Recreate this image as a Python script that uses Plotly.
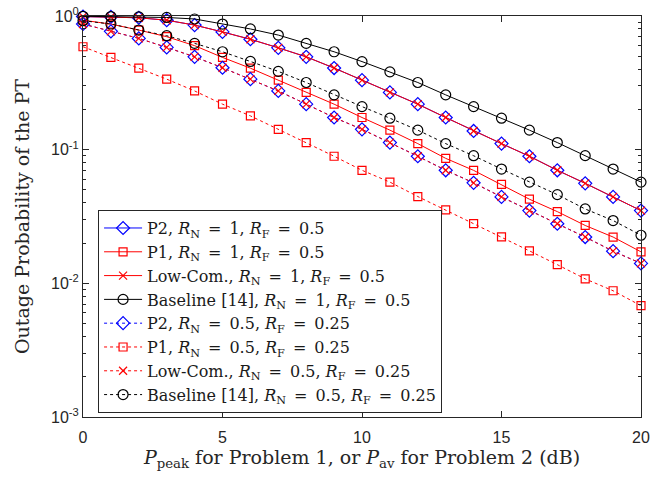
import plotly.graph_objects as go

x_db = list(range(0, 21))

p2_n1 = [0.99, 0.985, 0.97, 0.93, 0.855, 0.76, 0.67, 0.578, 0.495, 0.408, 0.331, 0.268, 0.219, 0.174,
         0.138, 0.111, 0.0893, 0.0701, 0.0560, 0.0443, 0.0350]
p1_n1 = [0.93, 0.87, 0.785, 0.70, 0.60, 0.49, 0.407, 0.331, 0.268, 0.219, 0.174, 0.140, 0.111, 0.0861,
         0.0700, 0.0550, 0.0426, 0.0344, 0.0271, 0.0222, 0.0172]
lowcom_n1 = [0.99, 0.985, 0.97, 0.93, 0.855, 0.76, 0.67, 0.578, 0.495, 0.408, 0.331, 0.268, 0.219, 0.174,
             0.138, 0.111, 0.0893, 0.0701, 0.0560, 0.0443, 0.0350]
base_n1 = [0.995, 0.99, 0.985, 0.975, 0.95, 0.87, 0.80, 0.72, 0.624, 0.540, 0.456, 0.382, 0.318, 0.257,
           0.210, 0.172, 0.140, 0.113, 0.0902, 0.0716, 0.0572]
p2_n05 = [0.871, 0.768, 0.680, 0.582, 0.495, 0.41, 0.337, 0.275, 0.219, 0.174, 0.142, 0.113, 0.0893,
          0.0701, 0.0565, 0.0443, 0.0350, 0.0279, 0.0222, 0.0174, 0.0141]
p1_n05 = [0.589, 0.490, 0.407, 0.337, 0.275, 0.219, 0.179, 0.142, 0.113, 0.0893, 0.0701, 0.0572, 0.0446,
          0.0354, 0.0280, 0.0223, 0.0175, 0.0138, 0.0108, 0.0088, 0.0068]
lowcom_n05 = [0.871, 0.768, 0.680, 0.582, 0.495, 0.41, 0.337, 0.275, 0.219, 0.174, 0.142, 0.113, 0.0893,
              0.0701, 0.0565, 0.0443, 0.0350, 0.0279, 0.0222, 0.0174, 0.0141]
base_n05 = [0.922, 0.871, 0.785, 0.712, 0.624, 0.540, 0.457, 0.385, 0.318, 0.257, 0.210, 0.172, 0.140,
            0.111, 0.0901, 0.0716, 0.0572, 0.0461, 0.0360, 0.0295, 0.0229]

x_ticks = [0, 5, 10, 15, 20]
y_ticks = [1e-3, 1e-2, 1e-1, 1]
y_ticktext = ["10<sup>-3</sup>", "10<sup>-2</sup>", "10<sup>-1</sup>", "10<sup>0</sup>"]
y_minor = [m * 10.0 ** e for e in (-3, -2, -1) for m in range(2, 10)]

EQ = "\u2002=\u2002"
lab1 = ", <i>R</i><sub>N</sub>" + EQ + "1, <i>R</i><sub>F</sub>" + EQ + "0.5"
lab2 = ", <i>R</i><sub>N</sub>" + EQ + "0.5, <i>R</i><sub>F</sub>" + EQ + "0.25"

series = [
    ("P2" + lab1, p2_n1, "#0000ff", "solid", "diamond-open", 10),
    ("P1" + lab1, p1_n1, "#ff0000", "solid", "square-open", 8),
    ("Low-Com." + lab1, lowcom_n1, "#ff0000", "solid", "x-thin-open", 8),
    ("Baseline [14]" + lab1, base_n1, "#000000", "solid", "circle-open", 10),
    ("P2" + lab2, p2_n05, "#0000ff", "dot", "diamond-open", 10),
    ("P1" + lab2, p1_n05, "#ff0000", "dot", "square-open", 8),
    ("Low-Com." + lab2, lowcom_n05, "#ff0000", "dot", "x-thin-open", 8),
    ("Baseline [14]" + lab2, base_n05, "#000000", "dot", "circle-open", 10),
]

fig = go.Figure()
for name, ys, color, dash, sym, size in series:
    fig.add_trace(go.Scatter(
        x=x_db, y=ys, name=name, mode="lines+markers",
        line=dict(color=color, width=1, dash=dash),
        marker=dict(symbol=sym, size=size, color=color, line=dict(color=color, width=1.2)),
        cliponaxis=False,
    ))

axis_color = "#262626"
serif = "DejaVu Serif"

fig.update_layout(
    width=654, height=479,
    margin=dict(l=83, r=13, t=16, b=62),
    paper_bgcolor="white", plot_bgcolor="white",
    showlegend=True,
    legend=dict(
        x=0.027, y=0.516, xanchor="left", yanchor="top",
        bgcolor="white", bordercolor="#262626", borderwidth=1,
        font=dict(family=serif, size=16, color="#1a1a1a"),
        tracegroupgap=0, itemwidth=38,
    ),
    xaxis=dict(
        range=[0, 20], tickvals=x_ticks, automargin=False,
        ticks="inside", ticklen=6, tickcolor=axis_color,
        showline=True, linecolor=axis_color, linewidth=1, mirror="ticks",
        showgrid=False, zeroline=False, ticklabelstandoff=6,
        tickfont=dict(family="Liberation Sans", size=16, color=axis_color),
        title=dict(text="<i>P</i><sub>peak</sub> for Problem 1, or <i>P</i><sub>av</sub> for Problem 2 (dB)",
                   font=dict(family=serif, size=19, color=axis_color), standoff=2),
    ),
    yaxis=dict(
        type="log", range=[-3, 0], tickvals=y_ticks, ticktext=y_ticktext, automargin=False,
        ticks="inside", ticklen=6, tickcolor=axis_color, ticklabeloverflow="allow",
        minor=dict(ticks="inside", ticklen=3, tickcolor=axis_color, tickvals=y_minor),
        showline=True, linecolor=axis_color, linewidth=1, mirror="ticks",
        showgrid=False, zeroline=False,
        tickfont=dict(family="Liberation Sans", size=16, color=axis_color),
        title=dict(text="Outage Probability of the PT",
                   font=dict(family=serif, size=19, color=axis_color), standoff=16),
    ),
)

fig.write_html("out.html", config={"displayModeBar": False},
               post_script="document.body.style.margin='0px';")
